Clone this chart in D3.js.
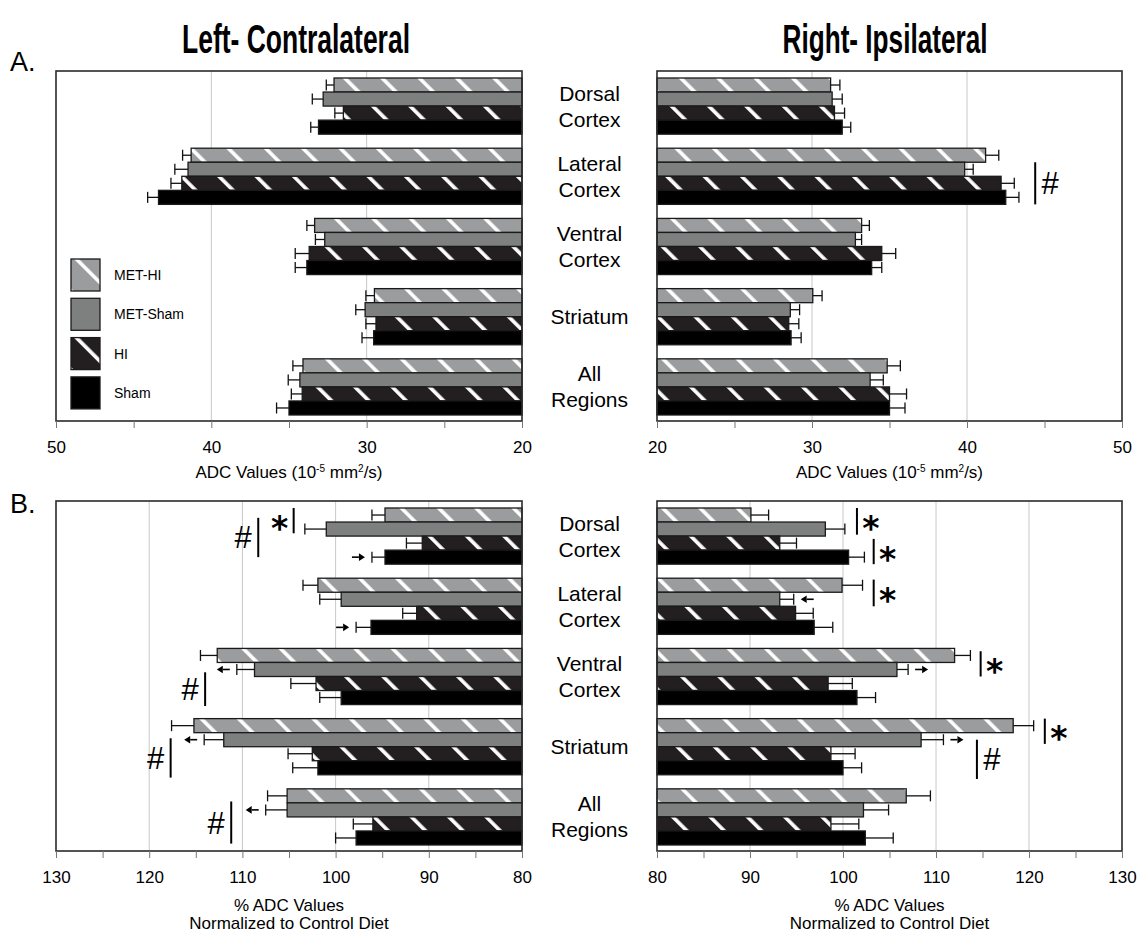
<!DOCTYPE html>
<html>
<head>
<meta charset="utf-8">
<script src="https://cdn.jsdelivr.net/npm/d3@7"></script>
<style>
  body { margin: 0; background: #fff; }
  svg { display: block; }
  text { font-family: "Liberation Sans", Arial, sans-serif; fill: #000; }
</style>
</head>
<body>
<svg id="fig" width="1142" height="934"></svg>
<script>
// ---- data ---------------------------------------------------------------
const regions = ["Dorsal Cortex", "Lateral Cortex", "Ventral Cortex", "Striatum", "All Regions"];
const regionLines = [["Dorsal", "Cortex"], ["Lateral", "Cortex"], ["Ventral", "Cortex"], ["Striatum"], ["All", "Regions"]];
const groups = ["MET-HI", "MET-Sham", "HI", "Sham"];

// ADC values (10^-5 mm²/s); rows follow regions, columns follow groups
const adcLeftMean = [
  [32.1, 32.8, 31.5, 33.1],
  [41.3, 41.5, 41.9, 43.4],
  [33.35, 32.7, 33.7, 33.85],
  [29.5, 30.1, 29.4, 29.55],
  [34.1, 34.3, 34.15, 35.0]
];
const adcLeftSem = [
  [0.5, 0.7, 0.55, 0.5],
  [0.55, 0.85, 0.7, 0.7],
  [0.5, 0.6, 0.9, 0.75],
  [0.55, 0.6, 0.65, 0.75],
  [0.65, 0.75, 0.7, 0.8]
];
const adcRightMean = [
  [31.2, 31.3, 31.45, 31.95],
  [41.2, 39.85, 42.2, 42.5],
  [33.2, 32.8, 34.5, 33.85],
  [30.05, 28.6, 28.5, 28.65],
  [34.85, 33.75, 35.0, 35.0]
];
const adcRightSem = [
  [0.6, 0.65, 0.65, 0.55],
  [0.85, 0.55, 0.85, 0.85],
  [0.5, 0.4, 0.9, 0.65],
  [0.6, 0.6, 0.65, 0.65],
  [0.85, 0.85, 1.1, 1.0]
];

// % ADC normalized to control diet
const pctLeftMean = [
  [94.7, 101.0, 90.7, 94.7],
  [101.9, 99.4, 91.3, 96.2],
  [112.7, 108.7, 102.1, 99.4],
  [115.2, 112.0, 102.5, 101.9],
  [105.2, 105.2, 96.0, 97.8]
];
const pctLeftSem = [
  [1.4, 2.3, 1.7, 1.4],
  [1.6, 2.3, 1.5, 1.6],
  [1.8, 1.9, 2.7, 2.3],
  [2.4, 2.1, 2.6, 2.7],
  [2.1, 2.3, 2.1, 2.2]
];
const pctRightMean = [
  [90.1, 98.1, 93.2, 100.6],
  [99.9, 93.2, 94.9, 96.9],
  [112.0, 105.8, 98.4, 101.5],
  [118.3, 108.4, 98.7, 100.0],
  [106.8, 102.2, 98.7, 102.4]
];
const pctRightSem = [
  [1.9, 2.1, 1.8, 1.7],
  [2.2, 1.5, 1.9, 2.0],
  [1.7, 1.2, 2.6, 2.0],
  [2.2, 2.4, 2.6, 2.0],
  [2.6, 2.7, 3.0, 3.0]
];

// tick values
const adcTicks = [20, 25, 30, 35, 40, 45, 50];
const pctTicks = [80, 85, 90, 95, 100, 105, 110, 115, 120, 125, 130];

// significance brackets: value where the bar sits, bars spanned (in bar units within the group)
const sigMarks = [
  { panel: "adcRight", region: 1, at: 44.4, from: 1.0, to: 4.0, mark: "#" },
  { panel: "pctLeft", region: 0, at: 104.5, from: 0.0, to: 1.8, mark: "*" },
  { panel: "pctLeft", region: 0, at: 108.3, from: 0.7, to: 3.5, mark: "#" },
  { panel: "pctLeft", region: 2, at: 114.0, from: 1.7, to: 4.1, mark: "#" },
  { panel: "pctLeft", region: 3, at: 117.7, from: 1.4, to: 4.2, mark: "#" },
  { panel: "pctLeft", region: 4, at: 111.2, from: 0.9, to: 3.9, mark: "#" },
  { panel: "pctRight", region: 0, at: 101.5, from: 0.0, to: 1.9, mark: "*" },
  { panel: "pctRight", region: 0, at: 103.3, from: 2.2, to: 4.0, mark: "*" },
  { panel: "pctRight", region: 1, at: 103.3, from: 0.1, to: 2.0, mark: "*" },
  { panel: "pctRight", region: 2, at: 114.8, from: 0.2, to: 2.0, mark: "*" },
  { panel: "pctRight", region: 3, at: 121.7, from: 0.0, to: 1.8, mark: "*" },
  { panel: "pctRight", region: 3, at: 114.4, from: 1.5, to: 4.3, mark: "#" }
];

// trend arrows next to individual bars ("down" points toward the baseline)
const trendArrows = [
  { panel: "pctLeft", region: 0, group: 3, dir: "down" },
  { panel: "pctLeft", region: 1, group: 3, dir: "down" },
  { panel: "pctLeft", region: 2, group: 1, dir: "up" },
  { panel: "pctLeft", region: 3, group: 1, dir: "up" },
  { panel: "pctLeft", region: 4, group: 1, dir: "up" },
  { panel: "pctRight", region: 1, group: 1, dir: "down" },
  { panel: "pctRight", region: 2, group: 1, dir: "up" },
  { panel: "pctRight", region: 3, group: 1, dir: "up" }
];

// ---- layout -------------------------------------------------------------
const svg = d3.select("#fig");
const rowTop = { A: 71, B: 501 };
const frameH = 350;
const leftX = [56, 522], rightX = [657, 1122];
const midX = (leftX[1] + rightX[0]) / 2;

const panels = [
  { key: "adcLeft", row: "A", mean: adcLeftMean, sem: adcLeftSem, domain: [d3.max(adcTicks), d3.min(adcTicks)], range: leftX, ticks: adcTicks, kind: "adc" },
  { key: "adcRight", row: "A", mean: adcRightMean, sem: adcRightSem, domain: [d3.min(adcTicks), d3.max(adcTicks)], range: rightX, ticks: adcTicks, kind: "adc" },
  { key: "pctLeft", row: "B", mean: pctLeftMean, sem: pctLeftSem, domain: [d3.max(pctTicks), d3.min(pctTicks)], range: leftX, ticks: pctTicks, kind: "pct" },
  { key: "pctRight", row: "B", mean: pctRightMean, sem: pctRightSem, domain: [d3.min(pctTicks), d3.max(pctTicks)], range: rightX, ticks: pctTicks, kind: "pct" }
];

// ---- hatch patterns -----------------------------------------------------
const defs = svg.append("defs");
function hatch(id, bg) {
  const s = 26.4;
  const p = defs.append("pattern")
    .attr("id", id)
    .attr("patternUnits", "userSpaceOnUse")
    .attr("width", s).attr("height", s)
    .attr("patternTransform", "rotate(-45)");
  p.append("rect").attr("width", s).attr("height", s).attr("fill", bg);
  p.append("rect").attr("x", 2).attr("width", 3.6).attr("height", s).attr("fill", "#fff");
}
hatch("hatchLight", "#9b9c9e");
hatch("hatchDark", "#231f20");
const groupFill = d3.scaleOrdinal().domain(groups)
  .range(["url(#hatchLight)", "#7e8080", "url(#hatchDark)", "#000"]);

// ---- titles --------------------------------------------------------------
svg.append("text")
  .attr("x", 296).attr("y", 53)
  .attr("text-anchor", "middle")
  .attr("textLength", 228).attr("lengthAdjust", "spacingAndGlyphs")
  .style("font-family", "'Liberation Sans Narrow', 'Liberation Sans', Arial, sans-serif")
  .style("font-weight", "bold").style("font-size", "40px")
  .text("Left- Contralateral");
svg.append("text")
  .attr("x", 885).attr("y", 53)
  .attr("text-anchor", "middle")
  .attr("textLength", 205).attr("lengthAdjust", "spacingAndGlyphs")
  .style("font-family", "'Liberation Sans Narrow', 'Liberation Sans', Arial, sans-serif")
  .style("font-weight", "bold").style("font-size", "40px")
  .text("Right- Ipsilateral");

svg.append("text").attr("x", 10).attr("y", 71).style("font-size", "27px").text("A.");
svg.append("text").attr("x", 10).attr("y", 513).style("font-size", "27px").text("B.");

// ---- panels ------------------------------------------------------------
const scales = {};

panels.forEach(p => {
  const top = rowTop[p.row];
  const bottom = top + frameH;
  const x = d3.scaleLinear().domain(p.domain).range(p.range);
  const base = d3.min(p.domain);
  const outward = Math.sign(x(base + 1) - x(base));
  const y = d3.scaleBand().domain(regions).range([top + 7, top + 344]).paddingInner(0.2).paddingOuter(0);
  const yg = d3.scaleBand().domain(groups).range([0, y.bandwidth()]);
  scales[p.key] = { x, y, yg, outward, p };

  const g = svg.append("g").attr("class", "panel " + p.key);

  // gridlines at the inner major ticks
  g.selectAll("line.grid")
    .data(p.ticks.filter(t => t % 10 === 0 && t !== p.domain[0] && t !== p.domain[1]))
    .join("line")
    .attr("class", "grid")
    .attr("x1", d => x(d)).attr("x2", d => x(d))
    .attr("y1", top).attr("y2", bottom)
    .attr("stroke", "#c8c8c8").attr("stroke-width", 1);

  // bars
  const rows = [];
  regions.forEach((r, ri) => groups.forEach((gr, gi) => {
    rows.push({ region: r, ri, group: gr, gi, v: p.mean[ri][gi], e: p.sem[ri][gi] });
  }));

  g.selectAll("rect.bar")
    .data(rows)
    .join("rect")
    .attr("class", "bar")
    .attr("x", d => Math.min(x(base), x(d.v)))
    .attr("width", d => Math.abs(x(d.v) - x(base)))
    .attr("y", d => y(d.region) + yg(d.group))
    .attr("height", yg.bandwidth())
    .attr("fill", d => groupFill(d.group))
    .attr("stroke", "#1a1a1a").attr("stroke-width", 1.3);

  // error bars (one-sided, outward)
  const eb = g.selectAll("g.err").data(rows).join("g").attr("class", "err")
    .attr("stroke", "#111").attr("stroke-width", 1.3);
  eb.append("line")
    .attr("x1", d => x(d.v)).attr("x2", d => x(d.v + d.e))
    .attr("y1", d => y(d.region) + yg(d.group) + yg.bandwidth() / 2)
    .attr("y2", d => y(d.region) + yg(d.group) + yg.bandwidth() / 2);
  eb.append("line")
    .attr("x1", d => x(d.v + d.e)).attr("x2", d => x(d.v + d.e))
    .attr("y1", d => y(d.region) + yg(d.group) + yg.bandwidth() / 2 - 5.5)
    .attr("y2", d => y(d.region) + yg(d.group) + yg.bandwidth() / 2 + 5.5);

  // frame
  g.append("rect")
    .attr("x", d3.min(p.range)).attr("y", top)
    .attr("width", Math.abs(p.range[1] - p.range[0])).attr("height", frameH)
    .attr("fill", "none").attr("stroke", "#2a2a2a").attr("stroke-width", 1.6);

  // axis
  const ax = g.append("g").attr("transform", `translate(0,${bottom})`)
    .call(d3.axisBottom(x).tickValues(p.ticks).tickSize(7).tickPadding(12.5)
      .tickFormat(d => d % 10 === 0 ? d : ""));
  ax.select(".domain").remove();
  ax.selectAll(".tick line").attr("stroke", "#777");
  ax.selectAll(".tick text")
    .style("font-family", "'Liberation Sans', Arial, sans-serif")
    .style("font-size", "17px").attr("fill", "#000");

  // axis title
  const cx = (p.range[0] + p.range[1]) / 2;
  if (p.kind === "adc") {
    const t = g.append("text").attr("x", cx).attr("y", bottom + 57)
      .attr("text-anchor", "middle").style("font-size", "17px");
    t.append("tspan").text("ADC Values (10");
    t.append("tspan").attr("dy", -6).style("font-size", "10px").text("-5");
    t.append("tspan").attr("dy", 6).text(" mm");
    t.append("tspan").attr("dy", -6).style("font-size", "10px").text("2");
    t.append("tspan").attr("dy", 6).text("/s)");
  } else {
    g.append("text").attr("x", cx).attr("y", bottom + 60)
      .attr("text-anchor", "middle").style("font-size", "17px").text("% ADC Values");
    g.append("text").attr("x", cx).attr("y", bottom + 78)
      .attr("text-anchor", "middle").style("font-size", "17px").text("Normalized to Control Diet");
  }
});

// ---- region labels between the panels -----------------------------------
["A", "B"].forEach(row => {
  const y = scales[row === "A" ? "adcLeft" : "pctLeft"].y;
  regions.forEach((r, i) => {
    const lines = regionLines[i];
    const cy = y(r) + y.bandwidth() / 2;
    const t = svg.append("text")
      .attr("text-anchor", "middle")
      .style("font-size", "21px");
    lines.forEach((ln, k) => {
      t.append("tspan")
        .attr("x", midX)
        .attr("y", cy + 7.5 + (k - (lines.length - 1) / 2) * 26)
        .text(ln);
    });
  });
});

// ---- significance marks --------------------------------------------------
sigMarks.forEach(s => {
  const { x, y, yg, outward } = scales[s.panel];
  const bh = yg.bandwidth();
  const r = regions[s.region];
  const y1 = y(r) + s.from * bh, y2 = y(r) + s.to * bh;
  const lx = x(s.at);
  svg.append("line")
    .attr("x1", lx).attr("x2", lx).attr("y1", y1).attr("y2", y2)
    .attr("stroke", "#000").attr("stroke-width", 2);
  const cy = (y1 + y2) / 2;
  if (s.mark === "*") {
    svg.append("text")
      .attr("x", lx + outward * 14).attr("y", cy + 19)
      .attr("text-anchor", "middle")
      .style("font-family", "'DejaVu Sans', sans-serif")
      .style("font-weight", "bold")
      .style("font-size", "33px")
      .text("*");
  } else {
    svg.append("text")
      .attr("x", lx + outward * 15).attr("y", cy + 11)
      .attr("text-anchor", "middle")
      .style("font-size", "31px")
      .text("#");
  }
});

// ---- trend arrows --------------------------------------------------------
trendArrows.forEach(a => {
  const { x, y, yg, outward, p } = scales[a.panel];
  const v = p.mean[a.region][a.group], e = p.sem[a.region][a.group];
  const cy = y(regions[a.region]) + yg(groups[a.group]) + yg.bandwidth() / 2;
  const near = x(v + e) + outward * 7;
  const far = near + outward * 13;
  const tip = a.dir === "down" ? near : far;
  const tail = a.dir === "down" ? far : near;
  const dirSign = Math.sign(tip - tail);
  const headBase = tip - dirSign * 6;
  svg.append("line")
    .attr("x1", tail).attr("x2", headBase).attr("y1", cy).attr("y2", cy)
    .attr("stroke", "#000").attr("stroke-width", 1.6);
  svg.append("path")
    .attr("d", `M${tip},${cy} L${headBase},${cy - 3.8} L${headBase},${cy + 3.8} Z`)
    .attr("fill", "#000");
});

// ---- legend --------------------------------------------------------------
const legend = svg.append("g").attr("transform", "translate(71,259)");
groups.forEach((gname, i) => {
  const row = legend.append("g").attr("transform", `translate(0,${i * 39.3})`);
  row.append("rect")
    .attr("width", 29).attr("height", 32)
    .attr("fill", groupFill(gname))
    .attr("stroke", "#1a1a1a").attr("stroke-width", 1.3);
  row.append("text")
    .attr("x", 43).attr("y", 21)
    .style("font-size", "14px")
    .text(gname);
});
</script>
</body>
</html>
